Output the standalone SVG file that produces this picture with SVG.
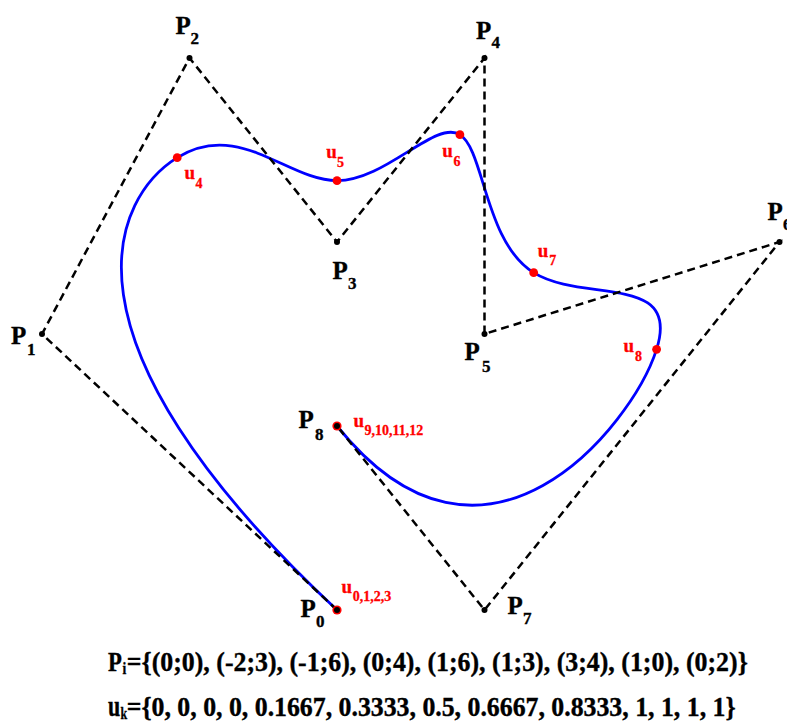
<svg xmlns="http://www.w3.org/2000/svg" width="787" height="725" viewBox="0 0 787 725">
<style>
text{font-family:"Liberation Serif","Times New Roman",serif;font-weight:bold}
.pl{font-size:25px;fill:#000;stroke:#000;stroke-width:0.35}
.ps{font-size:17px}
.ul{font-size:19px;fill:#ff0000;stroke:#ff0000;stroke-width:0.3}
.us{font-size:14px}
.bt{font-size:25.8px;fill:#000;stroke:#000;stroke-width:0.35}
.bs{font-size:15px;fill:#000;stroke:#000;stroke-width:0.3}
.curve{fill:none;stroke:#0000ff;stroke-width:2.8}
.poly{fill:none;stroke:#000;stroke-width:2.5;stroke-dasharray:8 5}
.pt{fill:#000}
.kn{fill:#ff0000}
</style>
<rect width="787" height="725" fill="#fff"/>
<g id="curve">
<path class="curve" d="M337,610 C42,334 115.75,196 177.21,157.67 C238.67,119.33 287.83,180.67 337,180.67 C386.17,180.67 435.33,119.33 459.92,134.67 C484.5,150 484.5,242 533.67,272.67 C582.83,303.33 681.17,272.67 656.58,349.33 C632,426 484.5,610 337,426"/>
</g>
<g id="connectors">
<polyline class="poly" points="337,610 42,334 189.5,58 337,242 484.5,58 484.5,334 779.5,242 484.5,610 337,426"/>
</g>
<g id="knots">
<circle class="kn" cx="337" cy="610" r="4.6"/>
<circle class="kn" cx="337" cy="426" r="4.6"/>
<circle class="kn" cx="177.2" cy="157.7" r="4.4"/>
<circle class="kn" cx="337" cy="180.7" r="4.4"/>
<circle class="kn" cx="459.9" cy="134.7" r="4.4"/>
<circle class="kn" cx="533.7" cy="272.7" r="4.4"/>
<circle class="kn" cx="656.6" cy="349.3" r="4.4"/>
</g>
<g id="P0"><circle class="pt" cx="337" cy="610" r="3"/><text class="pl" x="300.5" y="617">P<tspan class="ps" x="316" y="627">0</tspan></text></g>
<g id="P1"><circle class="pt" cx="42" cy="334" r="3"/><text class="pl" x="11" y="344">P<tspan class="ps" x="27" y="355">1</tspan></text></g>
<g id="P2"><circle class="pt" cx="189.5" cy="58" r="3"/><text class="pl" x="175.5" y="34">P<tspan class="ps" x="190.5" y="44">2</tspan></text></g>
<g id="P3"><circle class="pt" cx="337" cy="242" r="3"/><text class="pl" x="332.5" y="279">P<tspan class="ps" x="348" y="288.5">3</tspan></text></g>
<g id="P4"><circle class="pt" cx="484.5" cy="58" r="3"/><text class="pl" x="476" y="38.5">P<tspan class="ps" x="491.5" y="48">4</tspan></text></g>
<g id="P5"><circle class="pt" cx="484.5" cy="334" r="3"/><text class="pl" x="464.5" y="360">P<tspan class="ps" x="482" y="372">5</tspan></text></g>
<g id="P6"><circle class="pt" cx="779.5" cy="242" r="3"/><text class="pl" x="767.5" y="220">P<tspan class="ps" x="783" y="230">6</tspan></text></g>
<g id="P7"><circle class="pt" cx="484.5" cy="610" r="3"/><text class="pl" x="507.5" y="614">P<tspan class="ps" x="523" y="623.5">7</tspan></text></g>
<g id="P8"><circle class="pt" cx="337" cy="426" r="3"/><text class="pl" x="298.5" y="428">P<tspan class="ps" x="315" y="440">8</tspan></text></g>
<g id="labels">
<text class="ul" x="341.5" y="593">u<tspan class="us" x="352.7" y="600.7">0,1,2,3</tspan></text>
<text class="ul" x="353.5" y="426.7">u<tspan class="us" x="364.5" y="435">9,10,11,12</tspan></text>
<text class="ul" x="184.5" y="179.3">u<tspan class="us" x="195.5" y="188.3">4</tspan></text>
<text class="ul" x="326.2" y="158.3">u<tspan class="us" x="337" y="166.7">5</tspan></text>
<text class="ul" x="442.2" y="156.7">u<tspan class="us" x="453.5" y="166">6</tspan></text>
<text class="ul" x="537.8" y="256.7">u<tspan class="us" x="549.3" y="265">7</tspan></text>
<text class="ul" x="623.5" y="351.7">u<tspan class="us" x="635" y="360.7">8</tspan></text>
</g>
<g id="caption">
<text class="bt" transform="translate(108,671) scale(0.88,1.1)">P</text>
<text class="bs" transform="translate(122.5,674.3) scale(0.9,1.1)">i</text>
<text class="bt" transform="translate(126.7,671) scale(1.003,1.08)">={(0;0), (-2;3), (-1;6), (0;4), (1;6), (1;3), (3;4), (1;0), (0;2)}</text>
<text class="bt" transform="translate(108,715.5) scale(0.85,1.1)">u</text>
<text class="bs" transform="translate(120.5,719) scale(0.8,1.1)">k</text>
<text class="bt" transform="translate(126.7,715.5) scale(1,1.08)">={0, 0, 0, 0, 0.1667, 0.3333, 0.5, 0.6667, 0.8333, 1, 1, 1, 1}</text>
</g>
</svg>
